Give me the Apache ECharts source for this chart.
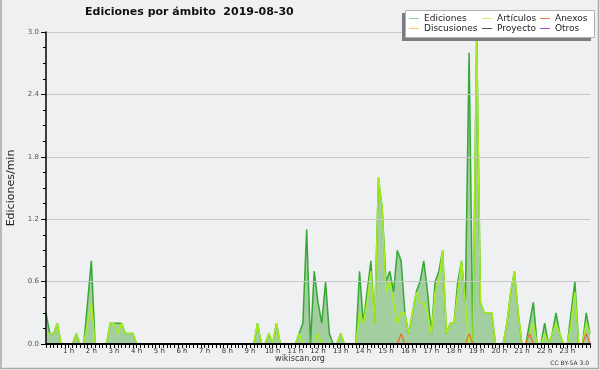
<!DOCTYPE html>
<html><head><meta charset="utf-8">
<script src="https://cdn.jsdelivr.net/npm/echarts@6/dist/echarts.min.js"></script>
<style>html,body{margin:0;padding:0;background:#eff0f1}#c{width:600px;height:370px}</style>
</head><body><div id="c"></div>
<script>
// Tick labels for the hours (x axis) – every 6th 10-minute slot
const hourLabels = ["1 h","2 h","3 h","4 h","5 h","6 h","7 h","8 h","9 h","10 h","11 h","12 h","13 h","14 h","15 h","16 h","17 h","18 h","19 h","20 h","21 h","22 h","23 h"];
// 10-minute slots 00:00 … 24:00 (145 points)
const slots = [];
for (let h = 0; h <= 24; h++) { for (let m = 0; m < 60; m += 10) { if (h === 24 && m > 0) break; slots.push(String(h).padStart(2,"0") + ":" + String(m).padStart(2,"0")); } }

// Ediciones/min per 10-minute slot
const ediciones = [
0.3,0.1,0.1,0.2,0,0,0,0,0.1,0,   0,0.4,0.8,0,0,0,0,0.2,0.2,0.2,
0.2,0.1,0.1,0.1,0,0,0,0,0,0,     0,0,0,0,0,0,0,0,0,0,
0,0,0,0,0,0,0,0,0,0,             0,0,0,0,0,0,0.2,0,0,0.1,
0,0.2,0,0,0,0,0,0.1,0.2,1.1,     0,0.7,0.4,0.2,0.6,0.1,0,0,0.1,0,
0,0,0,0.7,0.2,0.5,0.8,0.2,1.6,1.3, 0.6,0.7,0.5,0.9,0.8,0.3,0.1,0.3,0.5,0.6,
0.8,0.5,0.1,0.6,0.7,0.9,0.1,0.2,0.2,0.6, 0.8,0.4,2.8,0,3.0,0.4,0.3,0.3,0.3,0,
0,0,0.2,0.5,0.7,0.3,0,0,0.2,0.4, 0,0,0.2,0,0.1,0.3,0.1,0,0,0.3,
0.6,0,0,0.3,0.1
];
const articulos = [
0.1,0.1,0.1,0.2,0,0,0,0,0.1,0,   0,0.2,0.4,0,0,0,0,0.2,0.2,0.1,
0.2,0.1,0.1,0.1,0,0,0,0,0,0,     0,0,0,0,0,0,0,0,0,0,
0,0,0,0,0,0,0,0,0,0,             0,0,0,0,0,0,0.2,0,0,0.1,
0,0.2,0,0,0,0,0,0.1,0,0,         0,0,0.1,0,0,0,0,0,0.1,0,
0,0,0,0.3,0.2,0.4,0.7,0.2,1.6,1.3, 0.5,0.6,0.4,0.2,0.3,0.3,0.1,0.3,0.5,0.4,
0.4,0.3,0.1,0.5,0.6,0.9,0.1,0.2,0.2,0.5, 0.8,0.4,0,0,3.0,0.4,0.3,0.3,0.3,0,
0,0,0.2,0.5,0.7,0.3,0,0,0.1,0.2, 0,0,0.1,0,0.1,0.2,0.1,0,0,0.2,
0.5,0,0,0.2,0.1
];
const anexos = [
0,0,0,0,0,0,0,0,0,0, 0,0,0,0,0,0,0,0,0,0, 0,0,0,0,0,0,0,0,0,0,
0,0,0,0,0,0,0,0,0,0, 0,0,0,0,0,0,0,0,0,0, 0,0,0,0,0,0,0,0,0,0,
0,0,0,0,0,0,0,0,0,0, 0,0,0,0,0,0,0,0,0,0, 0,0,0,0,0,0,0,0,0,0,
0,0,0,0,0.1,0,0,0,0,0, 0,0,0,0,0,0,0,0,0,0, 0,0,0.1,0,0,0,0,0,0,0,
0,0,0,0,0,0,0,0,0.1,0, 0,0,0,0,0,0,0,0,0,0, 0,0,0,0.1,0
];
const discusiones = [
0,0,0,0,0,0,0,0,0,0, 0,0,0,0,0,0,0,0,0,0, 0,0,0,0,0,0,0,0,0,0,
0,0,0,0,0,0,0,0,0,0, 0,0,0,0,0,0,0,0,0,0, 0,0,0,0,0,0,0,0,0,0,
0,0,0,0,0,0,0,0,0,0, 0,0,0,0,0,0,0,0,0,0, 0,0,0,0,0,0,0,0,0,0,
0,0,0,0,0,0,0,0,0,0, 0,0,0,0,0,0,0,0,0,0, 0,0,0,0,0,0,0,0,0,0,
0,0,0,0,0,0,0,0,0,0, 0,0,0,0,0,0,0,0,0,0, 0,0,0,0,0
];
const proyecto = discusiones.slice();
const otros = discusiones.slice();
const yTicks = [0, 0.6, 1.2, 1.8, 2.4, 3.0];

const FONT = "DejaVu Sans";
const chart = echarts.init(document.getElementById('c'), null, {renderer:'canvas'});
const legendBase = { orient:'vertical', padding:0, itemGap:1, itemWidth:10, itemHeight:1, icon:'rect', z:12,
  textStyle:{fontFamily:FONT, fontSize:9, color:'#222'} };
chart.setOption({
  backgroundColor:'#eff0f1',
  animation:false,
  title:{ text:'Ediciones por ámbito  2019-08-30', left:85, top:7, padding:0,
    textStyle:{fontFamily:FONT, fontSize:11, fontWeight:'bold', color:'#111'} },
  grid:{ left:46, right:10, top:32, bottom:26, containLabel:false, outerBoundsMode:'none' },
  legend:[
    Object.assign({}, legendBase, {left:409, top:14, data:[{name:'Ediciones', itemStyle:{color:'#86d486'}},{name:'Discusiones', itemStyle:{color:'#f7d04a'}}]}),
    Object.assign({}, legendBase, {left:482, top:14, data:[{name:'Artículos', itemStyle:{color:'#cdf26a'}},{name:'Proyecto', itemStyle:{color:'#505050'}}]}),
    Object.assign({}, legendBase, {left:540, top:14, data:[{name:'Anexos', itemStyle:{color:'#f07a48'}},{name:'Otros', itemStyle:{color:'#9a4ee6'}}]})
  ],
  xAxis:{ type:'category', data:slots, boundaryGap:false, z:5,
    axisLine:{lineStyle:{color:'#000', width:2}},
    axisTick:{show:true, interval:0, length:4, lineStyle:{color:'#000'}},
    axisLabel:{ interval:(i)=> i%6===0 && i>0 && i<144, margin:4,
      formatter:(v,i)=> hourLabels[i/6-1] || '',
      fontFamily:FONT, fontSize:7, color:'#333' },
    splitLine:{show:false} },
  yAxis:{ type:'value', min:yTicks[0], max:yTicks[yTicks.length-1], interval:0.6, z:5,
    name:'Ediciones/min', nameLocation:'middle', nameGap:29,
    nameTextStyle:{fontFamily:FONT, fontSize:11, color:'#222'},
    axisLine:{show:true, lineStyle:{color:'#000', width:1.5}},
    axisTick:{show:true, length:5, lineStyle:{color:'#000'}},
    minorTick:{show:true, splitNumber:4, length:3, lineStyle:{color:'#000'}},
    axisLabel:{ formatter:(v)=>v.toFixed(1), margin:7, fontFamily:FONT, fontSize:7, color:'#555' },
    splitLine:{show:true, lineStyle:{color:'#c9c9c9', width:1}} },
  graphic:[
    {type:'polyline', shape:{points:[[1,0],[1,368.5],[598.5,368.5],[598.5,0]]}, style:{stroke:'#a8a8a8', fill:null, lineWidth:1.5}, z:20, silent:true},
    {type:'rect', shape:{x:402, y:13, width:189, height:28}, style:{fill:'#7d7d7d'}, z:10},
    {type:'rect', shape:{x:405.5, y:10.5, width:189, height:27}, style:{fill:'#ffffff', stroke:'#b0b0b0', lineWidth:1}, z:11},
    {type:'text', left:'center', top:355, style:{text:'wikiscan.org', font:'8px "DejaVu Sans"', fill:'#333'}, z:12},
    {type:'text', right:11, top:360, style:{text:'CC BY-SA 3.0', font:'6px "DejaVu Sans"', fill:'#333'}, z:12}
  ],
  series:[
    { name:'Ediciones', type:'line', data:ediciones, showSymbol:false, z:2,
      lineStyle:{color:'#36a836', width:1.5}, itemStyle:{color:'#86d486'},
      areaStyle:{color:'#a2cea0', opacity:1} },
    { name:'Discusiones', type:'line', data:discusiones, showSymbol:false, z:3, lineStyle:{color:'#f7d04a', width:1}, itemStyle:{color:'#f7d04a'} },
    { name:'Proyecto', type:'line', data:proyecto, showSymbol:false, z:3, lineStyle:{color:'#505050', width:1}, itemStyle:{color:'#505050'} },
    { name:'Otros', type:'line', data:otros, showSymbol:false, z:3, lineStyle:{color:'#9a4ee6', width:1}, itemStyle:{color:'#9a4ee6'} },
    { name:'Artículos', type:'line', data:articulos, showSymbol:false, z:4,
      lineStyle:{color:'#a8ee1c', width:1.5}, itemStyle:{color:'#cdf26a'} },
    { name:'Anexos', type:'line', data:anexos, showSymbol:false, z:4,
      lineStyle:{color:'#ee6a2a', width:1.2}, itemStyle:{color:'#f07a48'} }
  ]
});
</script></body></html>
